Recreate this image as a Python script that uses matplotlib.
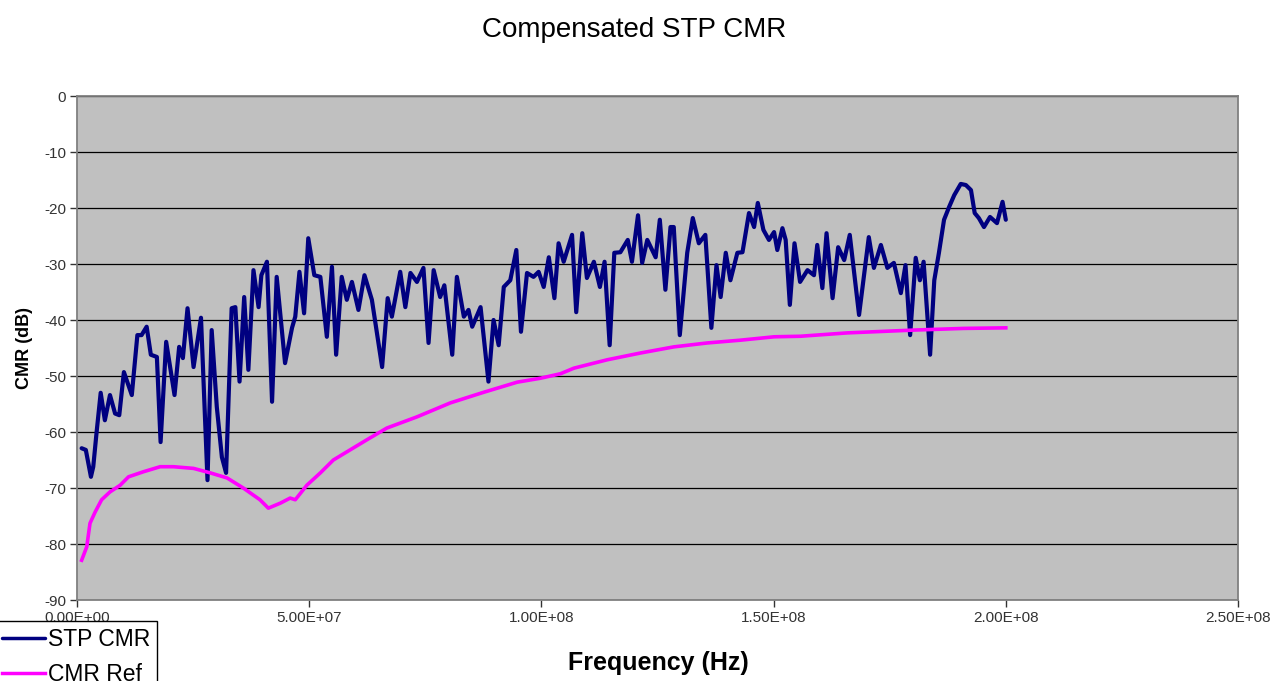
import matplotlib
matplotlib.use('Agg')
import matplotlib.pyplot as plt
from matplotlib.ticker import FuncFormatter, MultipleLocator

plt.rcParams['font.family'] = ['Liberation Sans', 'DejaVu Sans']
plt.rcParams['axes.unicode_minus'] = False

# STP CMR measurement (frequency in MHz, CMR in dB)
stp_mhz = [1.0, 1.9, 3.0, 3.5, 4.2, 5.1, 6.0, 7.1, 8.2, 9.1, 10.1, 11.8, 13.0, 13.9,
           15.0, 15.9, 17.2, 18.0, 19.2, 21.0, 22.0, 22.8, 23.8, 25.1, 26.7, 27.4,
           28.1, 29.0, 30.1, 31.2, 32.1, 33.3, 34.1, 35.0, 36.0, 36.9, 38.0, 39.1,
           39.7, 40.9, 42.0, 43.0, 44.8, 46.3, 47.0, 47.9, 48.9, 49.8, 51.1, 52.4,
           53.8, 54.9, 55.8, 57.0, 58.1, 59.2, 60.6, 61.9, 63.5, 65.7, 66.9, 67.8,
           69.6, 70.7, 71.8, 73.2, 74.6, 75.7, 76.8, 78.2, 79.1, 80.8, 81.8, 83.3,
           84.3, 85.1, 86.9, 88.6, 89.7, 90.8, 91.9, 93.3, 94.6, 95.6, 96.9, 98.3,
           99.4, 100.5, 101.6, 102.8, 103.7, 104.8, 106.6, 107.5, 108.8, 109.8,
           111.3, 112.6, 113.6, 114.7, 115.7, 117.0, 118.6, 119.5, 120.8, 121.7,
           122.8, 124.6, 125.5, 126.7, 127.8, 128.5, 129.8, 131.4, 132.6, 133.9,
           135.3, 136.6, 137.7, 138.6, 139.7, 140.7, 142.2, 143.3, 144.7, 145.8,
           146.6, 147.8, 149.0, 150.1, 150.8, 151.9, 152.6, 153.5, 154.5, 155.7,
           157.3, 158.7, 159.4, 160.5, 161.4, 162.7, 163.9, 165.2, 166.4, 168.4,
           170.5, 171.6, 173.1, 174.5, 175.9, 177.4, 178.4, 179.4, 180.6, 181.5,
           182.3, 183.7, 184.6, 185.6, 186.7, 187.8, 188.9, 190.3, 191.4, 192.5,
           193.3, 194.2, 195.3, 196.6, 198.1, 199.3, 200.0]
stp_db = [-62.9, -63.2, -68.0, -66.2, -60.2, -53.0, -57.9, -53.4, -56.7, -57.0, -49.3,
          -53.4, -42.7, -42.7, -41.2, -46.2, -46.6, -61.8, -43.9, -53.4, -44.8, -46.8,
          -37.9, -48.4, -39.6, -54.3, -68.6, -41.8, -55.5, -64.5, -67.3, -37.9, -37.7,
          -51.0, -35.9, -48.9, -31.1, -37.7, -32.0, -29.6, -54.6, -32.3, -47.7, -41.4,
          -39.4, -31.4, -38.8, -25.4, -32.0, -32.3,
          -43.0, -30.5, -46.2, -32.3, -36.4, -33.2, -38.2, -32.0, -36.4, -48.4, -36.1,
          -39.4, -31.4, -37.7, -31.6, -33.2, -30.7, -44.1, -31.1, -35.9, -33.8, -46.2,
          -32.3, -39.4, -38.2, -41.2, -37.7, -51.0, -40.0, -44.5, -34.1, -32.9, -27.5,
          -42.1, -31.6, -32.3, -31.4, -34.1, -28.8, -36.1, -26.3, -29.6, -24.8, -38.6,
          -24.5, -32.5, -29.6, -34.1, -29.6, -44.5, -28.0, -27.9, -25.7, -29.6, -21.3,
          -29.8, -25.7, -28.8, -22.1, -34.6, -23.4, -23.4, -42.7, -28.0, -21.8, -26.3,
          -24.8, -41.4, -30.2, -35.9, -28.0, -32.9, -28.0, -27.9, -20.9, -23.4, -19.1,
          -23.9, -25.7, -24.3, -27.5, -23.6, -25.7, -37.3, -26.3, -33.2, -31.1, -32.0,
          -26.6, -34.3, -24.5, -36.1, -27.0, -29.3, -24.8, -39.1, -25.2, -30.7, -26.6,
          -30.7, -29.8, -35.2, -30.2, -42.7, -28.9, -32.9, -29.6, -46.2, -32.9, -28.0,
          -22.1, -19.8, -17.7, -15.7, -15.9, -16.8, -20.9, -21.8, -23.4, -21.6, -22.7,
          -18.9, -22.1]

# CMR reference limit
ref_mhz = [1.0, 2.1, 2.8, 3.9, 5.3, 7.1, 9.3, 11.1, 14.3, 17.9, 20.8, 25.1, 28.7, 32.3,
           35.8, 39.4, 41.2, 43.8, 45.9, 47.0, 49.5, 52.4, 55.2, 62.4, 66.7, 73.2, 80.4,
           87.6, 94.8, 99.8, 104.1, 107.0, 114.2, 121.3, 128.5, 135.7, 142.9, 150.1,
           155.8, 165.9, 180.2, 191.0, 200.0]
ref_db = [-82.9, -80.5, -76.3, -74.3, -72.1, -70.7, -69.5, -68.0, -67.1, -66.2, -66.2,
          -66.5, -67.3, -68.2, -70.0, -72.1, -73.6, -72.7, -71.8, -72.1, -69.5, -67.3,
          -65.0, -61.4, -59.3, -57.3, -54.8, -52.9, -51.1, -50.4, -49.6, -48.6, -47.1,
          -45.9, -44.8, -44.1, -43.6, -43.0, -42.9, -42.3, -41.8, -41.5, -41.4]

stp_hz = [f * 1e6 for f in stp_mhz]
ref_hz = [f * 1e6 for f in ref_mhz]

fig = plt.figure(figsize=(12.88, 6.81), dpi=100)
ax = fig.add_axes([77 / 1288, 1 - 600 / 681, 1161 / 1288, 504 / 681])
ax.set_facecolor('#c0c0c0')

ax.plot(stp_hz, stp_db, color='#000080', lw=3.0, label='STP CMR', zorder=3,
        solid_joinstyle='round', solid_capstyle='round')
ax.plot(ref_hz, ref_db, color='#ff00ff', lw=2.6, label='CMR Ref', zorder=3,
        solid_joinstyle='round')

ax.set_xlim(0, 2.5e8)
ax.set_ylim(-90, 0)
ax.xaxis.set_major_locator(MultipleLocator(5e7))
ax.yaxis.set_major_locator(MultipleLocator(10))
ax.xaxis.set_major_formatter(FuncFormatter(lambda v, p: f'{v:.2E}'))
ax.yaxis.set_major_formatter(FuncFormatter(lambda v, p: f'{v:.0f}'))
ax.grid(axis='y', color='black', lw=0.9)
ax.set_axisbelow(True)
for s in ax.spines.values():
    s.set_color('#808080')
    s.set_linewidth(1.3)
ax.tick_params(labelsize=11, colors='#333333', length=5, width=1, pad=3)

fig.text(634 / 1288, 1 - 30 / 681, 'Compensated STP CMR', ha='center', va='center', fontsize=20)
ax.set_ylabel('CMR (dB)', fontsize=13, fontweight='bold', labelpad=8)
fig.text(658 / 1288, 1 - 663 / 681, 'Frequency (Hz)', ha='center', va='center',
         fontsize=18, fontweight='bold')

leg = fig.legend(loc='upper left', bbox_to_anchor=(-0.004, 1 - 621 / 681), fontsize=16.5,
                 frameon=True, fancybox=False, edgecolor='black', framealpha=1,
                 handlelength=1.9, handletextpad=0.1, labelspacing=0.55,
                 borderpad=0.3, borderaxespad=0)
leg.get_frame().set_linewidth(1.0)
for h in leg.get_lines():
    h.set_linewidth(2.5)

fig.savefig('out.png', dpi=100)
